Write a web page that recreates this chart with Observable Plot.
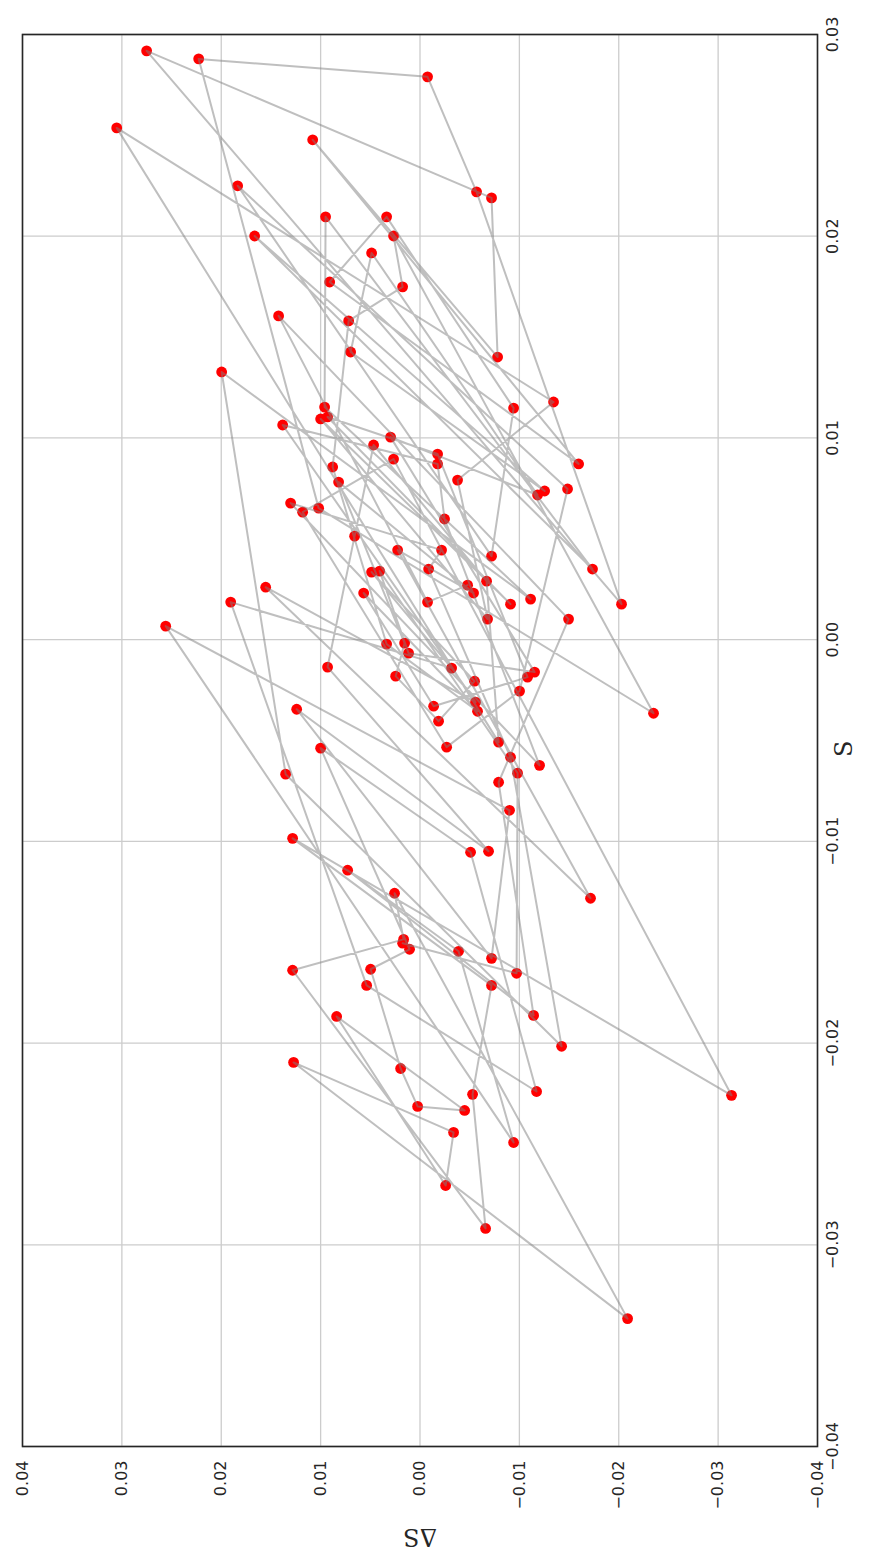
<!DOCTYPE html>
<html>
<head>
<meta charset="utf-8">
<script src="https://cdn.jsdelivr.net/npm/d3@7"></script>
<script src="https://cdn.jsdelivr.net/npm/@observablehq/plot@0.6"></script>
<style>
  html, body { margin: 0; padding: 0; background: #ffffff; }
  #chart svg { display: block; }
</style>
</head>
<body>
<div id="chart"></div>
<script>
// Series in time order: S_t and ΔS_t
const S = [
  0.00270, 0.00186, 0.01605, 0.00102, -0.00707, -0.01863, -0.01143, -0.01545, -0.02493, 0.00067,
  -0.00846, -0.01580, -0.00345, -0.01049, -0.00136, 0.00513, 0.00965, 0.00290, -0.00508, 0.02537,
  0.01178, 0.00791, 0.00102, 0.01094, 0.00176, 0.01104, 0.00920, -0.00186, -0.00330, 0.00231,
  -0.00355, -0.00022, 0.00856, 0.01580, 0.01749, 0.02001, -0.00365, 0.00652, 0.02879, 0.02790,
  0.02220, 0.00176, 0.02919, 0.02190, 0.01401, 0.02478, 0.00871, 0.01773, 0.02096, 0.01148,
  0.00414, 0.02250, 0.00747, -0.00255, -0.00533, 0.00632, 0.00895, -0.02259, -0.00985, -0.01714,
  -0.02254, -0.02919, -0.01639, -0.01486, -0.01257, -0.03366, -0.02096, -0.02443, -0.02706, -0.01868,
  -0.02334, -0.02314, -0.02126, -0.01634, -0.01535, -0.00538, -0.01054, -0.02240, -0.01714, 0.00186,
  -0.00141, 0.00335, -0.00206, -0.00404, -0.00181, -0.00017, 0.00781, 0.00231, 0.00444, -0.01282,
  0.00260, -0.00310, 0.01064, 0.00871, 0.00598, -0.00623, 0.00677, 0.00444, 0.00350, -0.00583,
  -0.02016, -0.00667, 0.01327, 0.00201, 0.01153, 0.02096, 0.00350, 0.02001, 0.00737, 0.01426,
  0.01917, 0.00717, 0.01004, -0.00161, -0.00067, 0.00340, -0.00662, -0.01654, -0.01505
];
const dS = [
  -0.00479, -0.00076, 0.01423, -0.01495, -0.00791, -0.01143, 0.00728, -0.00388, -0.00942, 0.02559,
  -0.00901, -0.00720, 0.01241, -0.00690, 0.00930, 0.00658, 0.00467, -0.00670, -0.00791, 0.03052,
  -0.01344, -0.00378, -0.00680, 0.01000, -0.00911, 0.00930, -0.00177, -0.01082, -0.00137, 0.00567,
  -0.00579, 0.00336, 0.00879, 0.00718, 0.00175, 0.00266, -0.02350, 0.01020, 0.02227, -0.00076,
  -0.00569, -0.02028, 0.02751, -0.00720, -0.00781, 0.01080, -0.01596, 0.00909, 0.00336, -0.00942,
  -0.00720, 0.01835, -0.01485, -0.01002, -0.00268, 0.01181, 0.00266, -0.03135, 0.01282, -0.00720,
  -0.00529, -0.00660, 0.01282, 0.00165, 0.00256, -0.02089, 0.01272, -0.00338, -0.00258, 0.00839,
  -0.00449, 0.00024, 0.00195, 0.00497, 0.00105, 0.01000, -0.00509, -0.01173, 0.00537, 0.01905,
  -0.00318, 0.00487, -0.00549, -0.00187, 0.00245, 0.00155, 0.00819, -0.00539, 0.00225, -0.01716,
  0.01553, -0.00559, 0.01382, -0.00177, -0.00247, -0.01203, 0.01302, -0.00217, -0.00087, -0.00911,
  -0.01425, 0.01352, 0.01996, -0.01113, 0.00960, 0.00950, -0.01736, 0.01664, -0.01254, 0.00698,
  0.00487, -0.01183, 0.00296, -0.01153, 0.00115, 0.00406, -0.00982, -0.00972, 0.00175
];

const xTicks = [0.04, 0.03, 0.02, 0.01, 0.00, -0.01, -0.02, -0.03, -0.04];
const yTicks = [-0.04, -0.03, -0.02, -0.01, 0.00, 0.01, 0.02, 0.03];
const xLabel = "ΔS";
const yLabel = "S";

const data = S.map((s, i) => ({t: i, S: s, dS: dS[i]}));
const fmt = d3.format(".2f");
const ink = "#262626";

const chart = Plot.plot({
  width: 880,
  height: 1556,
  marginLeft: 22,
  marginRight: 63,
  marginTop: 34,
  marginBottom: 110,
  style: {fontFamily: "'DejaVu Sans', sans-serif", fontSize: "16px", background: "#ffffff", color: ink, overflow: "visible"},
  x: {domain: [0.04, -0.04]},
  y: {domain: [-0.04, 0.03]},
  marks: [
    Plot.gridX(xTicks, {stroke: "#cccccc", strokeOpacity: 1, strokeWidth: 1.3}),
    Plot.gridY(yTicks, {stroke: "#cccccc", strokeOpacity: 1, strokeWidth: 1.3}),
    Plot.axisX(xTicks, {anchor: "bottom", tickSize: 0, tickPadding: 14, tickRotate: -90,
      textAnchor: "end", lineAnchor: "middle", tickFormat: fmt, label: null, fill: ink}),
    Plot.axisY(yTicks, {anchor: "right", tickSize: 0, tickPadding: 9, tickRotate: -90,
      textAnchor: "middle", lineAnchor: "top", tickFormat: fmt, label: null, fill: ink}),
    Plot.dot(data, {x: "dS", y: "S", r: 5.4, fill: "#ff0000"}),
    Plot.line(data, {x: "dS", y: "S", stroke: "#808080", strokeOpacity: 0.5, strokeWidth: 2}),
    Plot.frame({stroke: ink, strokeWidth: 1.6}),
    Plot.text([yLabel], {text: d => d, frameAnchor: "right", dx: 27, rotate: -90,
      fontFamily: "'DejaVu Serif', serif", fontSize: 24, fill: ink}),
    Plot.text([xLabel], {text: d => d, frameAnchor: "bottom", dy: 82, rotate: 180,
      fontFamily: "'DejaVu Serif', serif", fontSize: 24, fill: ink})
  ]
});
document.getElementById("chart").appendChild(chart);
</script>
</body>
</html>
